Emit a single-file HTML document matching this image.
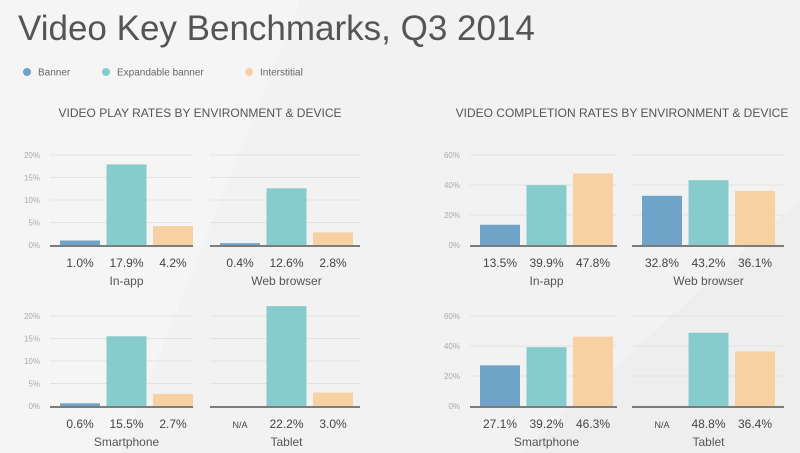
<!DOCTYPE html>
<html><head><meta charset="utf-8"><style>
html,body{margin:0;padding:0}
body{width:800px;height:453px;overflow:hidden;background:#f2f2f2;font-family:"Liberation Sans",sans-serif;position:relative}
svg{position:absolute;left:0;top:0}
</style></head><body>
<svg id="chart" width="800" height="453">
<polygon points="0,0 300,0 120,453 0,453" fill="#f5f5f5"/>
<polygon points="520,453 800,200 800,453" fill="#eeeeee"/>
<text x="18" y="40" font-size="35" fill="#555" font-weight="300">Video Key Benchmarks, Q3 2014</text>
<g>
<circle cx="27" cy="72" r="4" fill="#6fa3c8"/>
<text x="38" y="75.5" font-size="10" fill="#666">Banner</text>
<circle cx="106" cy="72" r="4" fill="#86cccc"/>
<text x="117" y="75.5" font-size="10" fill="#666">Expandable banner</text>
<circle cx="249" cy="72" r="4" fill="#f7d1a2"/>
<text x="260" y="75.5" font-size="10" fill="#666">Interstitial</text>
</g>
<text x="200" y="117" font-size="12" fill="#555" text-anchor="middle">VIDEO PLAY RATES BY ENVIRONMENT &amp; DEVICE</text>
<text x="622" y="117" font-size="12" fill="#555" text-anchor="middle">VIDEO COMPLETION RATES BY ENVIRONMENT &amp; DEVICE</text>
</svg>
<script>
const categories = ["In-app","Web browser","Smartphone","Tablet"];
const seriesNames = ["Banner","Expandable banner","Interstitial"];
const playBanner = [1.0, 0.4, 0.6, null];
const playExpandable = [17.9, 12.6, 15.5, 22.2];
const playInterstitial = [4.2, 2.8, 2.7, 3.0];
const compBanner = [13.5, 32.8, 27.1, null];
const compExpandable = [39.9, 43.2, 39.2, 48.8];
const compInterstitial = [47.8, 36.1, 46.3, 36.4];
const playTicks = [0,5,10,15,20];
const compTicks = [0,20,40,60];

const colors = ["#6fa3c8","#86cccc","#f7d1a2"];
const svg = document.getElementById('chart');
const NS = "http://www.w3.org/2000/svg";
function mk(tag, attrs){const e=document.createElementNS(NS,tag);for(const k in attrs)e.setAttribute(k,attrs[k]);svg.appendChild(e);return e;}

const groups = [
  {series:[playBanner,playExpandable,playInterstitial], ticks:playTicks, max:20, tickX:40,
   panels:[[50,193],[210,360]], name:'play'},
  {series:[compBanner,compExpandable,compInterstitial], ticks:compTicks, max:60, tickX:460,
   panels:[[470,617],[632,784]], name:'completion'}
];
const rows = [{top:155,base:245},{top:316,base:406}];

groups.forEach(g=>{
  rows.forEach((r,ri)=>{
    const y = v => r.base - (v/g.max)*(r.base-r.top);
    g.ticks.forEach(t=>{
      const lbl = mk('text',{x:g.tickX,y:y(t)+3,'font-size':8,fill:'#aaa','text-anchor':'end'});
      lbl.textContent = t+'%';
      
      
      if(t>0) g.panels.forEach(p=>{
        const gl = mk('line',{x1:p[0],x2:p[1],y1:y(t),y2:y(t),stroke:'#e2e2e2','stroke-width':1});
        
        
      });
    });
    g.panels.forEach((p,pi)=>{
      const ci = ri*2+pi;
      const x0 = p[0]+10, bw = 40, gap = 6.5;
      g.series.forEach((s,si)=>{
        const v = s[ci];
        const bx = x0 + si*(bw+gap);
        if(v!==null){
          const b = mk('rect',{x:bx,y:y(v),width:bw,height:r.base-y(v),fill:colors[si]});
          
          
        }
        const vt = mk('text',{x:bx+bw/2,y:r.base+22,'font-size':v===null?9:12,fill:'#444','text-anchor':'middle'});
        vt.textContent = v===null ? 'N/A' : v.toFixed(1)+'%';
        
        
      });
      const ax = mk('line',{x1:p[0],x2:p[1],y1:r.base+1,y2:r.base+1,stroke:'#555','stroke-width':1.5});
      
      
      const ct = mk('text',{x:x0+bw*1.5+gap,y:r.base+40,'font-size':12,fill:'#555','text-anchor':'middle'});
      ct.textContent = categories[ci];
      
      
    });
  });
});
</script>
</body></html>
